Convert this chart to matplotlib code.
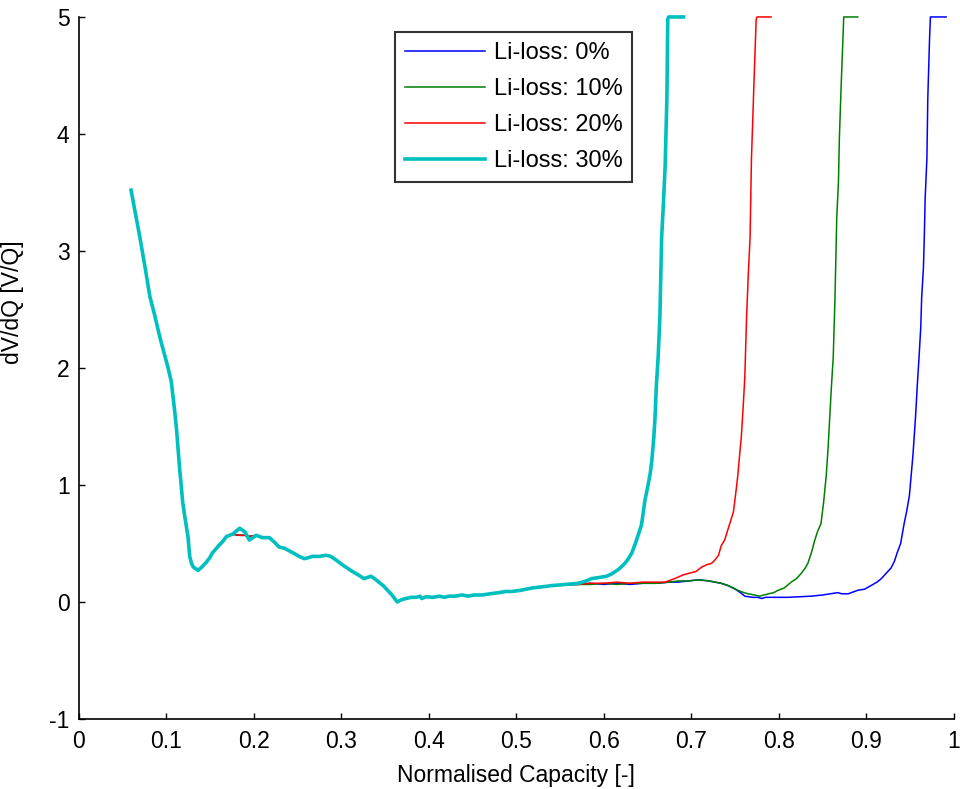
import numpy as np
import matplotlib
matplotlib.use("Agg")
import matplotlib.pyplot as plt

plt.rcParams['font.family'] = ['Liberation Sans', 'DejaVu Sans']
plt.rcParams['axes.unicode_minus'] = False

# ---- data ----
base1_x = [0.060, 0.065, 0.070, 0.076, 0.0815, 0.087, 0.093, 0.098, 0.102, 0.106, 0.108, 0.110,
           0.112, 0.114, 0.1156, 0.117, 0.119, 0.122, 0.125, 0.127, 0.129, 0.131, 0.1365, 0.141,
           0.146, 0.150, 0.153, 0.160, 0.165, 0.169, 0.176]
base1_y = [3.52, 3.32, 3.12, 2.86, 2.61, 2.45, 2.26, 2.12, 2.01, 1.88, 1.75, 1.62,
           1.47, 1.28, 1.13, 1.02, 0.85, 0.70, 0.56, 0.39, 0.33, 0.30, 0.27, 0.30,
           0.34, 0.38, 0.42, 0.48, 0.52, 0.56, 0.58]

peak_x = [0.184, 0.190, 0.195, 0.203]
peak_y = [0.57, 0.57, 0.56, 0.57]
peak30_y = [0.63, 0.60, 0.53, 0.57]

base2_x = [0.210, 0.218, 0.224, 0.229, 0.235, 0.245, 0.252, 0.258, 0.263, 0.267, 0.275, 0.283,
           0.288, 0.294, 0.301, 0.307, 0.313, 0.320, 0.326, 0.330, 0.334, 0.338, 0.343, 0.348,
           0.353, 0.358, 0.364, 0.369, 0.374, 0.380, 0.386, 0.390, 0.392, 0.397, 0.405, 0.412,
           0.418, 0.423, 0.430, 0.438, 0.445, 0.452, 0.461, 0.470, 0.480, 0.488, 0.495, 0.505,
           0.518, 0.530, 0.540, 0.556]
base2_y = [0.55, 0.55, 0.51, 0.47, 0.46, 0.42, 0.39, 0.37, 0.38, 0.39, 0.39, 0.40,
           0.39, 0.36, 0.32, 0.29, 0.26, 0.23, 0.20, 0.21, 0.22, 0.20, 0.17, 0.14,
           0.10, 0.06, 0.00, 0.02, 0.03, 0.04, 0.04, 0.05, 0.03, 0.045, 0.04, 0.05,
           0.04, 0.05, 0.05, 0.06, 0.05, 0.06, 0.06, 0.07, 0.08, 0.09, 0.09, 0.10,
           0.12, 0.13, 0.14, 0.15]

tail0_x = [0.570, 0.585, 0.600, 0.615, 0.630, 0.645, 0.660, 0.675, 0.685, 0.697, 0.708, 0.720,
           0.734, 0.742, 0.750, 0.756, 0.761, 0.770, 0.776, 0.780, 0.785, 0.791, 0.810, 0.837,
           0.850, 0.867, 0.872, 0.879, 0.890, 0.898, 0.905, 0.912, 0.917, 0.923, 0.928, 0.932,
           0.935, 0.939, 0.943, 0.946, 0.949, 0.951, 0.953, 0.956, 0.958, 0.960, 0.962, 0.963,
           0.965, 0.966, 0.967, 0.969, 0.970, 0.972, 0.973, 0.991]
tail0_y = [0.15, 0.16, 0.15, 0.16, 0.15, 0.16, 0.16, 0.17, 0.17, 0.18, 0.19, 0.18,
           0.16, 0.14, 0.11, 0.08, 0.05, 0.04, 0.04, 0.03, 0.04, 0.04, 0.04, 0.05,
           0.06, 0.08, 0.07, 0.07, 0.10, 0.11, 0.14, 0.17, 0.20, 0.25, 0.29, 0.35,
           0.42, 0.50, 0.67, 0.78, 0.91, 1.08, 1.25, 1.58, 1.85, 2.09, 2.35, 2.60,
           2.85, 3.11, 3.45, 3.79, 4.30, 4.81, 5.00, 5.00]

tail10_x = [0.570, 0.585, 0.600, 0.615, 0.630, 0.645, 0.660, 0.675, 0.685, 0.697, 0.708, 0.720,
            0.734, 0.742, 0.748, 0.753, 0.760, 0.765, 0.772, 0.778, 0.783, 0.788, 0.794, 0.799,
            0.806, 0.814, 0.820, 0.8255, 0.830, 0.833, 0.837, 0.841, 0.844, 0.848, 0.851, 0.854,
            0.856, 0.858, 0.860, 0.862, 0.864, 0.866, 0.868, 0.869, 0.871, 0.873, 0.874, 0.890]
tail10_y = [0.15, 0.15, 0.16, 0.15, 0.16, 0.16, 0.16, 0.17, 0.18, 0.18, 0.19, 0.18,
            0.16, 0.14, 0.12, 0.10, 0.08, 0.07, 0.06, 0.05, 0.06, 0.07, 0.08, 0.10,
            0.12, 0.17, 0.20, 0.245, 0.29, 0.33, 0.42, 0.53, 0.60, 0.67, 0.85, 1.08,
            1.30, 1.58, 1.85, 2.09, 2.60, 3.28, 3.60, 3.96, 4.40, 4.81, 5.00, 5.00]

tail20_x = [0.570, 0.585, 0.600, 0.615, 0.630, 0.645, 0.660, 0.670, 0.681, 0.690, 0.697, 0.705,
            0.712, 0.718, 0.723, 0.727, 0.731, 0.734, 0.738, 0.743, 0.748, 0.751, 0.753, 0.755,
            0.757, 0.759, 0.761, 0.763, 0.765, 0.767, 0.7686, 0.770, 0.7716, 0.774, 0.775, 0.791]
tail20_y = [0.15, 0.16, 0.16, 0.17, 0.16, 0.17, 0.17, 0.17, 0.20, 0.23, 0.245, 0.26,
            0.30, 0.32, 0.33, 0.36, 0.40, 0.48, 0.53, 0.65, 0.77, 0.95, 1.08, 1.25,
            1.41, 1.65, 1.92, 2.43, 2.80, 3.11, 3.79, 4.10, 4.47, 4.98, 5.00, 5.00]

tail30_x = [0.571, 0.580, 0.586, 0.595, 0.603, 0.609, 0.617, 0.624, 0.628, 0.632, 0.636, 0.640,
            0.643, 0.647, 0.650, 0.653, 0.6547, 0.657, 0.6585, 0.660, 0.662, 0.664, 0.666, 0.668,
            0.670, 0.672, 0.673, 0.674, 0.691]
tail30_y = [0.16, 0.18, 0.20, 0.21, 0.22, 0.24, 0.28, 0.33, 0.37, 0.42, 0.50, 0.59,
            0.66, 0.87, 0.98, 1.10, 1.20, 1.40, 1.58, 1.85, 2.09, 2.43, 3.11, 3.40,
            3.72, 4.30, 4.98, 5.00, 5.00]

labels = ['Li-loss: 0%', 'Li-loss: 10%', 'Li-loss: 20%', 'Li-loss: 30%']
colors = ['#0000ff', '#008000', '#ff0000', '#00bfbf']
x_ticks = [0, 0.1, 0.2, 0.3, 0.4, 0.5, 0.6, 0.7, 0.8, 0.9, 1]
x_ticklabels = ['0', '0.1', '0.2', '0.3', '0.4', '0.5', '0.6', '0.7', '0.8', '0.9', '1']
y_ticks = [-1, 0, 1, 2, 3, 4, 5]

series = [
    (base1_x + peak_x + base2_x + tail0_x, base1_y + peak_y + base2_y + tail0_y),
    (base1_x + peak_x + base2_x + tail10_x, base1_y + peak_y + base2_y + tail10_y),
    (base1_x + peak_x + base2_x + tail20_x, base1_y + peak_y + base2_y + tail20_y),
    (base1_x + peak_x + base2_x + tail30_x, base1_y + peak30_y + base2_y + tail30_y),
]
widths = [1.1, 1.1, 1.1, 2.6]

fig = plt.figure(figsize=(9.6, 7.89), dpi=100)
ax = fig.add_axes([0.0818, 0.0887, 0.9120, 0.8898])

for (xs, ys), c, lw, lab in zip(series, colors, widths, labels):
    ax.plot(xs, ys, color=c, lw=lw, label=lab, clip_on=False)

ax.set_xlim(0, 1)
ax.set_ylim(-1, 5)
ax.set_xticks(x_ticks)
ax.set_xticklabels(x_ticklabels)
ax.set_yticks(y_ticks)
ax.spines['top'].set_visible(False)
ax.spines['right'].set_visible(False)
for s in ['left', 'bottom']:
    ax.spines[s].set_linewidth(1.2)
ax.tick_params(axis='both', direction='in', length=4, width=1, labelsize=16.5)
ax.tick_params(axis='x', pad=8)
ax.tick_params(axis='y', pad=6.5)
ax.set_xlabel('Normalised Capacity [-]', fontsize=16.5, labelpad=8)
ax.set_ylabel('dV/dQ [V/Q]', fontsize=16.5)
ax.yaxis.set_label_coords(-0.062, 0.594)

leg = ax.legend(loc='upper left', bbox_to_anchor=(0.3616, 0.9786), borderaxespad=0,
                fontsize=17, frameon=True, fancybox=False, edgecolor='black',
                handlelength=3.4, handletextpad=0.35, borderpad=0.42, labelspacing=0.6)
leg.get_frame().set_linewidth(1.5)

fig.savefig('out.png', dpi=100, facecolor='white')
